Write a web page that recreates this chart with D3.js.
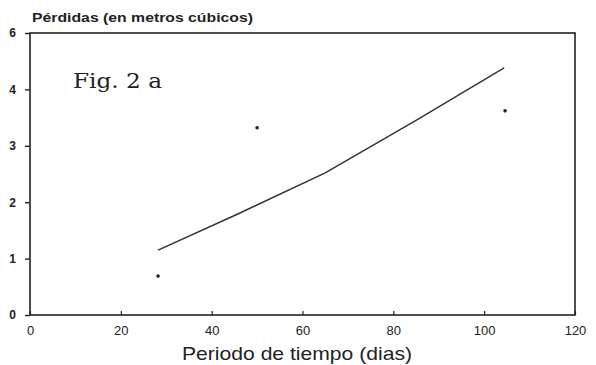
<!DOCTYPE html>
<html>
<head>
<meta charset="utf-8">
<script src="https://cdn.jsdelivr.net/npm/d3@7"></script>
<style>
body { margin: 0; background: #fff; }
svg { display: block; }
</style>
</head>
<body>
<svg width="596" height="365"></svg>
<script>
// values
var xTicks = [0, 20, 40, 60, 80, 100, 120];
var yTicks = [0, 1, 2, 3, 4, 5];
var yTickLabels = ["0", "1", "2", "3", "4", "6"]; // top label printed as "6" in the original
var dotX = [28.2, 50, 104.6];
var dotY = [0.69, 3.32, 3.62];
var lineX = [28.2, 46, 65, 85, 104.4];
var lineY = [1.15, 1.8, 2.52, 3.45, 4.38];

var svg = d3.select("svg");
var xScale = d3.scaleLinear().domain([0, 120]).range([30, 575]);
var yScale = d3.scaleLinear().domain([0, 5]).range([315, 33]);
var ink = "#222";

// frame
svg.append("rect")
    .attr("x", xScale(0)).attr("y", yScale(5))
    .attr("width", xScale(120) - xScale(0))
    .attr("height", yScale(0) - yScale(5))
    .attr("fill", "none").attr("stroke", ink).attr("stroke-width", 1.6);

// y axis
var yaxis = svg.append("g")
    .attr("transform", "translate(" + xScale(0) + ",0)")
    .call(d3.axisLeft(yScale).tickValues(yTicks).tickSize(5).tickPadding(9)
        .tickFormat(function (d, i) { return yTickLabels[i]; }));
yaxis.select(".domain").remove();
yaxis.selectAll("line").attr("stroke", ink).attr("stroke-width", 1.4);
yaxis.selectAll("text")
    .attr("fill", ink)
    .style("font-family", "'Liberation Sans', Arial, sans-serif")
    .style("font-size", "12px").style("font-weight", "bold");

// x axis, ticks pointing inward
var xaxis = svg.append("g")
    .attr("transform", "translate(0," + yScale(0) + ")")
    .call(d3.axisBottom(xScale).tickValues(xTicks).tickSize(-4).tickPadding(11));
xaxis.select(".domain").remove();
xaxis.selectAll("line").attr("stroke", ink).attr("stroke-width", 1.2);
xaxis.selectAll("text")
    .attr("fill", ink)
    .style("font-family", "'Liberation Sans', Arial, sans-serif")
    .style("font-size", "13px");

// axis titles
svg.append("text")
    .attr("x", 32).attr("y", 22)
    .attr("textLength", 221).attr("lengthAdjust", "spacingAndGlyphs")
    .attr("fill", ink)
    .style("font-family", "'Liberation Sans', Arial, sans-serif")
    .style("font-size", "12.5px").style("font-weight", "bold")
    .text("Pérdidas (en metros cúbicos)");

svg.append("text")
    .attr("x", 182).attr("y", 360)
    .attr("textLength", 230).attr("lengthAdjust", "spacingAndGlyphs")
    .attr("fill", ink)
    .style("font-family", "'Liberation Sans', Arial, sans-serif")
    .style("font-size", "19px")
    .text("Periodo de tiempo (dias)");

// figure tag
svg.append("text")
    .attr("x", 73).attr("y", 88)
    .attr("textLength", 89).attr("lengthAdjust", "spacingAndGlyphs")
    .attr("fill", ink)
    .style("font-family", "'DejaVu Serif', 'Liberation Serif', serif")
    .style("font-size", "21px")
    .text("Fig. 2 a");

// fitted line
var pts = lineX.map(function (x, i) { return [x, lineY[i]]; });
svg.append("path")
    .datum(pts)
    .attr("fill", "none").attr("stroke", "#333").attr("stroke-width", 1.5)
    .attr("d", d3.line()
        .x(function (d) { return xScale(d[0]); })
        .y(function (d) { return yScale(d[1]); }));

// observed points
svg.selectAll(".pt")
    .data(dotX)
    .enter().append("circle")
    .attr("class", "pt")
    .attr("cx", function (d) { return xScale(d); })
    .attr("cy", function (d, i) { return yScale(dotY[i]); })
    .attr("r", 1.8)
    .attr("fill", ink);
</script>
</body>
</html>
